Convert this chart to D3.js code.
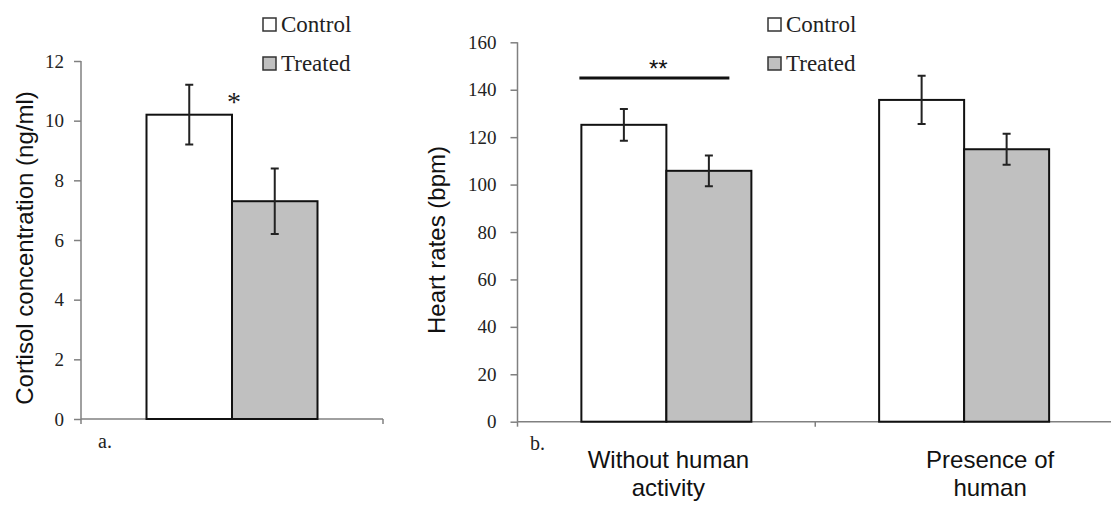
<!DOCTYPE html>
<html>
<head>
<meta charset="utf-8">
<script src="https://cdn.jsdelivr.net/npm/d3@7"></script>
<style>
  body { margin: 0; background: #fff; }
  svg { display: block; }
  .serif { font-family: "Liberation Serif", "Times New Roman", serif; fill: #222; }
  .sans { font-family: "Liberation Sans", Arial, sans-serif; fill: #111; }
</style>
</head>
<body>
<svg width="1111" height="505"></svg>
<script>
var series = ['Control', 'Treated']
var fills = ['#ffffff', '#c0c0c0']

// panel a: cortisol
var cortGroups = ['a']
var cortMeans = [[10.2, 7.3]]
var cortErr = [[1.0, 1.1]]
var cortTicks = [0, 2, 4, 6, 8, 10, 12]

// panel b: heart rates
var hrGroups = ['Without human activity', 'Presence of human']
var hrLabels = [['Without human', 'activity'], ['Presence of', 'human']]
var hrMeans = [[125.2, 105.8], [135.7, 114.9]]
var hrErr = [[6.7, 6.5], [10.2, 6.5]]
var hrTicks = [0, 20, 40, 60, 80, 100, 120, 140, 160]

var svg = d3.select('svg')

function panel (opt) {
  var g = svg.append('g')
  var y = d3.scaleLinear().domain(opt.domain).range([opt.bottom, opt.top])
  var x0 = d3.scaleBand().domain(opt.groups).range([opt.left, opt.right])
  var bw = x0.bandwidth()
  var x1 = d3.scaleBand().domain(series).range([bw / 2 - opt.barW, bw / 2 + opt.barW])

  // y axis
  var ya = g.append('g')
    .attr('transform', 'translate(' + opt.left + ',0)')
    .attr('font-family', '"Liberation Serif", "Times New Roman", serif')
    .call(d3.axisLeft(y).tickValues(opt.ticks).tickSize(7).tickPadding(opt.pad).tickSizeOuter(0))
  ya.attr('font-family', '"Liberation Serif", "Times New Roman", serif').attr('font-size', 19)
  ya.select('.domain').attr('d', 'M0,' + y(opt.domain[1]) + 'V' + opt.bottom)
  ya.selectAll('path, line').attr('stroke', '#808080').attr('stroke-width', 1.5)
  ya.selectAll('text').attr('fill', '#222')

  // x axis baseline with boundary ticks
  var edges = opt.groups.map(function (d) { return x0(d) }).concat([x0(opt.groups[opt.groups.length - 1]) + bw])
  g.append('line')
    .attr('x1', opt.left).attr('x2', opt.right)
    .attr('y1', y(0)).attr('y2', y(0))
    .attr('stroke', '#808080').attr('stroke-width', 1.5)
  g.selectAll('.xtick').data(edges).enter().append('line')
    .attr('x1', function (d) { return d }).attr('x2', function (d) { return d })
    .attr('y1', y(0)).attr('y2', y(0) + 5)
    .attr('stroke', '#808080').attr('stroke-width', 1.5)

  var grp = g.selectAll('.grp').data(opt.groups).enter().append('g')
    .attr('transform', function (d) { return 'translate(' + x0(d) + ',0)' })

  grp.each(function (gname, gi) {
    var gg = d3.select(this)
    series.forEach(function (s, si) {
      var v = opt.means[gi][si]
      var e = opt.err[gi][si]
      gg.append('rect')
        .attr('x', x1(s)).attr('width', x1.bandwidth())
        .attr('y', y(v)).attr('height', y(0) - y(v))
        .attr('fill', fills[si]).attr('stroke', '#111').attr('stroke-width', 2)
      var cx = x1(s) + x1.bandwidth() / 2
      gg.append('path')
        .attr('d', 'M' + cx + ',' + y(v + e) + 'V' + y(v - e) +
          'M' + (cx - 4) + ',' + y(v + e) + 'H' + (cx + 4) +
          'M' + (cx - 4) + ',' + y(v - e) + 'H' + (cx + 4))
        .attr('stroke', '#222').attr('stroke-width', 2).attr('fill', 'none')
    })
  })

  // legend
  var lg = g.append('g').attr('transform', 'translate(' + opt.legendX + ',0)')
  series.forEach(function (s, i) {
    var yy = 18 + i * 39
    lg.append('rect').attr('x', 0).attr('y', yy).attr('width', 13).attr('height', 13)
      .attr('fill', fills[i]).attr('stroke', '#333').attr('stroke-width', 1.5)
    lg.append('text').attr('class', 'serif').attr('x', 18).attr('y', yy + 14)
      .style('font-size', '23px').text(s)
  })

  // y label
  g.append('text').attr('class', 'sans')
    .attr('transform', 'translate(' + opt.labelX + ',' + ((opt.top + opt.bottom) / 2 + 8) + ') rotate(-90)')
    .attr('text-anchor', 'middle').style('font-size', '24px').text(opt.yLabel)

  // panel letter
  g.append('text').attr('class', 'serif').attr('x', opt.letterX).attr('y', opt.letterY)
    .style('font-size', '20px').text(opt.letter)

  return { g: g, x0: x0, x1: x1, y: y, bw: bw }
}

var pa = panel({
  groups: cortGroups, means: cortMeans, err: cortErr, ticks: cortTicks,
  domain: [0, 12], top: 61, bottom: 419, left: 81, right: 383, barW: 85.5, pad: 10,
  legendX: 263, yLabel: 'Cortisol concentration (ng/ml)', labelX: 33,
  letter: 'a.', letterX: 98, letterY: 448
})

// significance star, panel a
pa.g.append('text').attr('class', 'serif')
  .attr('x', pa.x0('a') + pa.x1('Treated') + 2).attr('y', 111)
  .attr('text-anchor', 'middle').style('font-size', '28px').text('*')

var pb = panel({
  groups: hrGroups, means: hrMeans, err: hrErr, ticks: hrTicks,
  domain: [0, 160], top: 42.3, bottom: 421.7, left: 517.5, right: 1113, barW: 85, pad: 14,
  legendX: 768, yLabel: 'Heart rates (bpm)', labelX: 445,
  letter: 'b.', letterX: 530, letterY: 450
})

// category labels, panel b
hrGroups.forEach(function (d, i) {
  var t = pb.g.append('text').attr('class', 'sans')
    .attr('text-anchor', 'middle').style('font-size', '24px')
  hrLabels[i].forEach(function (line, j) {
    t.append('tspan').attr('x', pb.x0(d) + pb.bw / 2 + (i === 0 ? 2 : 26)).attr('y', 468 + j * 28).text(line)
  })
})

// significance bar, panel b
var g0 = pb.x0(hrGroups[0])
pb.g.append('line')
  .attr('x1', g0 + pb.x1('Control') - 2).attr('x2', g0 + pb.x1('Treated') + 63)
  .attr('y1', 78).attr('y2', 78)
  .attr('stroke', '#111').attr('stroke-width', 3)
pb.g.append('text').attr('class', 'sans')
  .attr('x', g0 + pb.x1('Control') + 77).attr('y', 77)
  .attr('text-anchor', 'middle').style('font-size', '24px').text('**')
</script>
</body>
</html>
